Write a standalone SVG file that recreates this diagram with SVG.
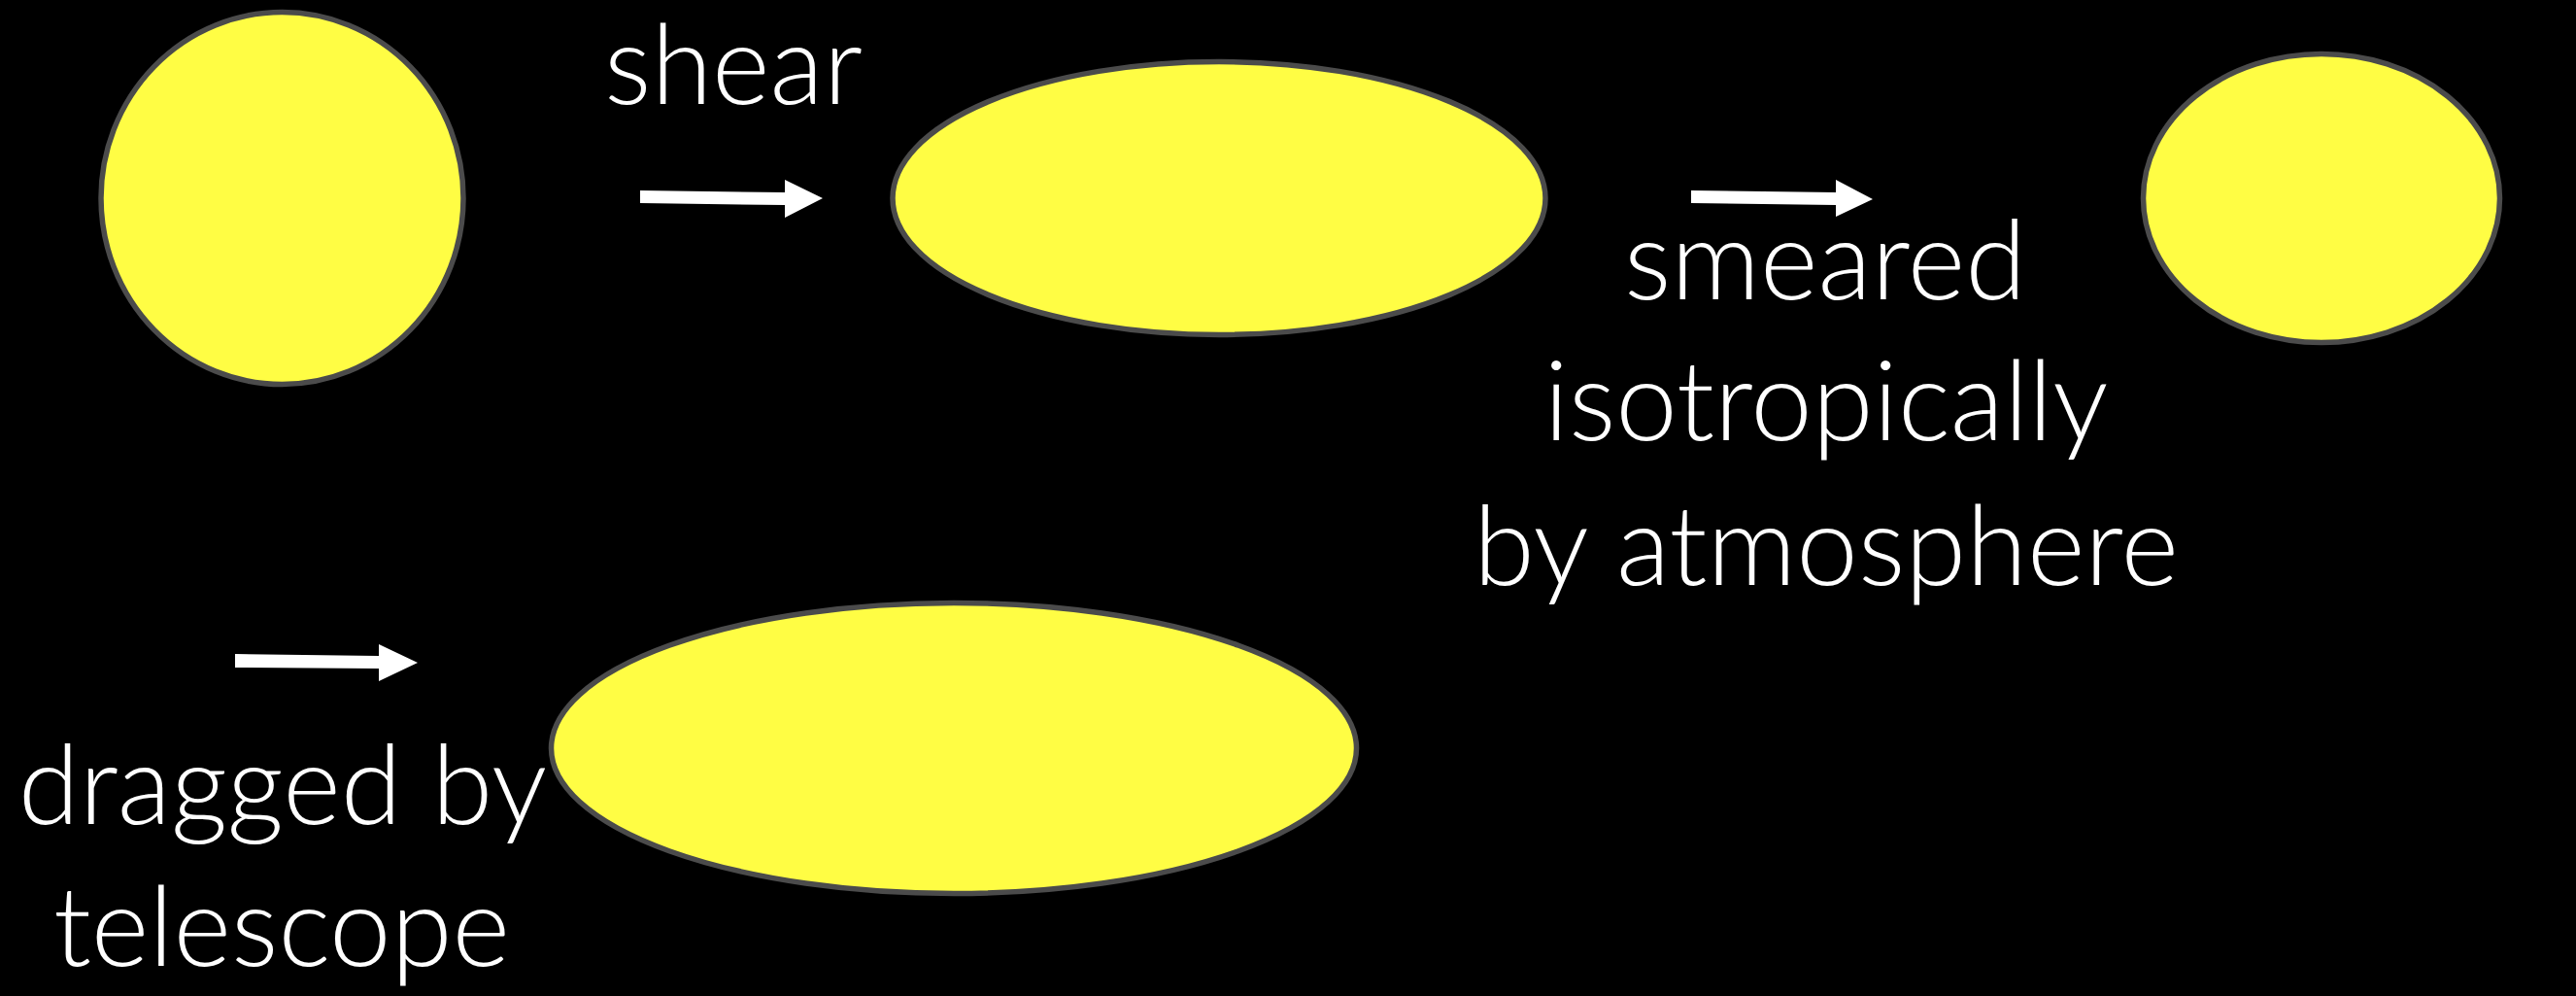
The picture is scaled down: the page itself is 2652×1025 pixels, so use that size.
<svg xmlns="http://www.w3.org/2000/svg" width="2652" height="1025" viewBox="0 0 2652 1025">
<style>
.blob{fill:#fffd44;stroke:#4b4b4b;stroke-width:5.5}
.lbl{font-family:Lato,"Noto Sans","Liberation Sans",sans-serif;font-weight:300;font-size:114px;fill:#ffffff;text-anchor:middle}
.arrow{fill:#ffffff}
</style>
<rect x="0" y="0" width="2652" height="1025" fill="#000000"/>
<g id="source">
<ellipse class="blob" cx="290.5" cy="204" rx="186.5" ry="191.5"/>
</g>
<g id="sheared">
<ellipse class="blob" cx="1255" cy="204" rx="336" ry="140.5"/>
</g>
<g id="smeared">
<ellipse class="blob" cx="2390" cy="204" rx="183.5" ry="148.5"/>
</g>
<g id="dragged">
<ellipse class="blob" cx="982" cy="770" rx="414.5" ry="149.5"/>
</g>
<g id="connectors">
<polygon class="arrow" points="659,196 808,198 808,185 847,204 808,224 808,211 659,209"/>
<polygon class="arrow" points="1741,196 1890,198 1890,185 1928,205 1890,223 1890,211 1741,209"/>
<polygon class="arrow" points="242,673 390,675 390,663 430,682 390,701 390,688 242,687"/>
</g>
<g id="labels">
<text class="lbl" x="755" y="107">shear</text>
<text class="lbl" x="1879" y="308">smeared</text>
<text class="lbl" x="1880" y="453">isotropically</text>
<text class="lbl" x="1880" y="602">by atmosphere</text>
<text class="lbl" x="291" y="848">dragged by</text>
<text class="lbl" x="290" y="994">telescope</text>
</g>
</svg>
